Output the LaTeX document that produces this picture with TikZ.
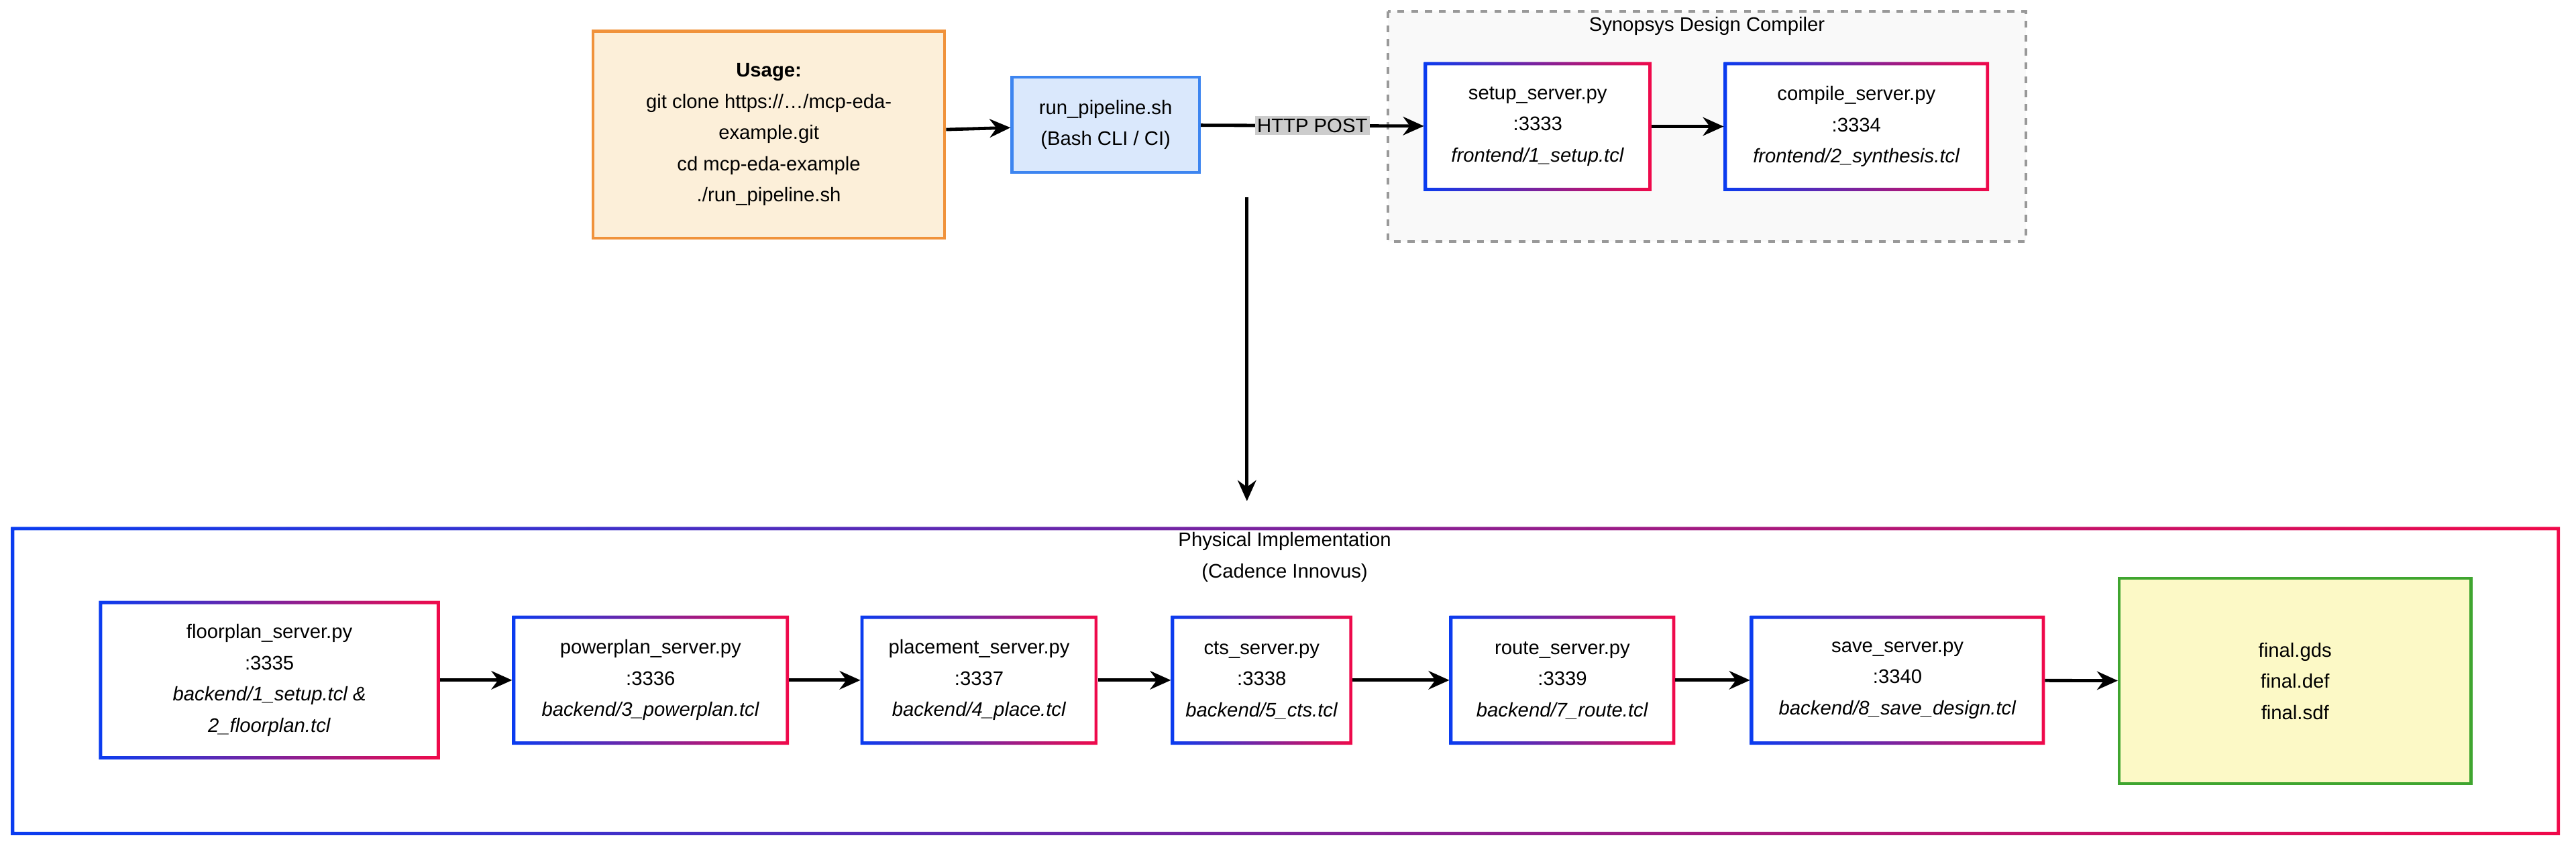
\documentclass[tikz,border=0pt]{standalone}
\usepackage{fontspec}
\setmainfont{Liberation Sans}
\usetikzlibrary{calc,arrows.meta}

\definecolor{gblue}{HTML}{0A3CF0}
\definecolor{gred}{HTML}{F0094A}
\definecolor{usefill}{HTML}{FCEFD9}
\definecolor{useline}{HTML}{F0923B}
\definecolor{runfill}{HTML}{DAE8FC}
\definecolor{runline}{HTML}{3D85F0}
\definecolor{finfill}{HTML}{FCF9C6}
\definecolor{finline}{HTML}{3FA52F}

\tikzset{
	txt/.style={font=\fontsize{8.5}{13.5}\selectfont, align=center, inner sep=0pt},
	sz/.style 2 args={minimum width=#1*0.025cm, minimum height=#2*0.025cm},
	arr/.style={line width=1.4pt, -{Stealth[length=9pt,width=8pt]}},
}

\begin{document}
\begin{tikzpicture}[x=0.025cm, y=0.025cm]
	\useasboundingbox (0,0) rectangle (1568,-517);

	% top row
	\node[txt, fill=usefill, draw=useline, line width=1.3pt, sz={214}{126}] (usage) at (468,-82) {\textbf{Usage:}\\git clone https://…/mcp-eda-\\example.git\\cd mcp-eda-example\\./run\_pipeline.sh};
	\node[txt, fill=runfill, draw=runline, line width=1.3pt, sz={114}{58}] (run) at (673,-76) {run\_pipeline.sh\\(Bash CLI / CI)};

	\draw[gray!80, dashed, line width=1.2pt, fill=gray!5] (845,-7) rectangle (1233,-147);
	\node[txt] (dc) at (1039,-16) {Synopsys Design Compiler};

	\node[txt, fill=white, sz={138}{78}] (setup) at (936,-77) {setup\_server.py\\:3333\\\textit{frontend/1\_setup.tcl}};
	\node[txt, fill=white, sz={161}{78}] (compile) at (1130,-77) {compile\_server.py\\:3334\\\textit{frontend/2\_synthesis.tcl}};

	% bottom row
	\node[txt, sz={1551}{187}] (phys) at (782.5,-414.5) {};
	\node[txt] (physt) at (782,-339) {Physical Implementation\\(Cadence Innovus)};

	\node[txt, sz={207}{96}] (floor) at (164,-414) {floorplan\_server.py\\:3335\\\textit{backend/1\_setup.tcl \&}\\\textit{2\_floorplan.tcl}};
	\node[txt, sz={168}{78}] (power) at (396,-414) {powerplan\_server.py\\:3336\\\textit{backend/3\_powerplan.tcl}};
	\node[txt, sz={144}{78}] (place) at (596,-414) {placement\_server.py\\:3337\\\textit{backend/4\_place.tcl}};
	\node[txt, sz={110}{78}] (cts) at (768,-414) {cts\_server.py\\:3338\\\textit{backend/5\_cts.tcl}};
	\node[txt, sz={137}{78}] (route) at (951,-414) {route\_server.py\\:3339\\\textit{backend/7\_route.tcl}};
	\node[txt, sz={179}{78}] (save) at (1155,-414) {save\_server.py\\:3340\\\textit{backend/8\_save\_design.tcl}};
	\node[txt, fill=finfill, draw=finline, line width=1.3pt, sz={214}{125}] (final) at (1397,-414.5) {final.gds\\final.def\\final.sdf};

	% gradient frames
	\foreach \n in {setup,compile,phys,floor,power,place,cts,route,save}
		\shade[even odd rule, left color=gblue, right color=gred]
			(\n.south west) rectangle (\n.north east)
			($(\n.south west)+(2,2)$) rectangle ($(\n.north east)-(2,2)$);

	% connectors
	\draw[arr] (usage) -- (run);
	\draw[arr] (run) -- (setup) node[midway, fill=gray!40, inner sep=1pt, font=\fontsize{8.5}{10}\selectfont] {HTTP POST};
	\draw[arr] (setup) -- (compile);

	\coordinate (down1) at (759,-120);
	\coordinate (down2) at (759,-305);
	\draw[arr] (down1) -- (down2);

	\draw[arr] (floor) -- (power);
	\draw[arr] (power) -- (place);
	\draw[arr] (place) -- (cts);
	\draw[arr] (cts) -- (route);
	\draw[arr] (route) -- (save);
	\draw[arr] (save) -- (final);

\end{tikzpicture}
\end{document}
